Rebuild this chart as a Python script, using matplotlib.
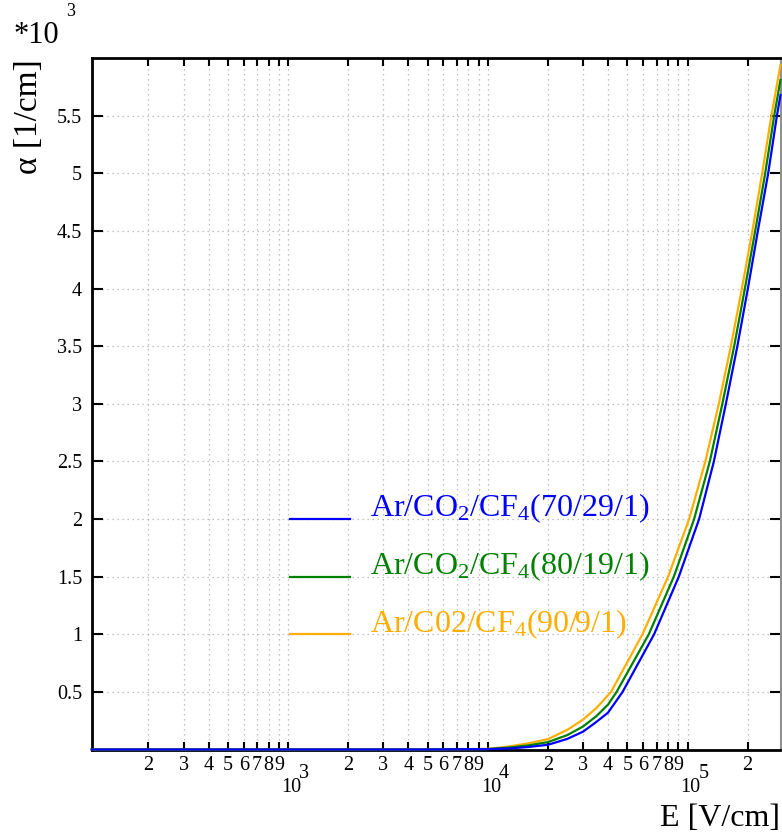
import matplotlib
matplotlib.use("Agg")
import matplotlib.pyplot as plt
import matplotlib.transforms as mtransforms
from matplotlib.ticker import LogLocator, FuncFormatter, FixedLocator, NullLocator, NullFormatter
import numpy as np

plt.rcParams['font.family'] = ['Liberation Serif', 'DejaVu Serif']
plt.rcParams['mathtext.fontset'] = 'custom'
plt.rcParams['mathtext.rm'] = 'Liberation Serif'
plt.rcParams['mathtext.it'] = 'Liberation Serif:italic'

# ---- data (E in V/cm, alpha in 1/cm) ----
E_blue = [104, 1000, 5000, 10000, 13000, 16000, 20000, 25000, 30000, 35000, 40000,
          47300, 68030, 90450, 114300, 135500, 155600, 177600, 200500, 225000, 253400, 280200, 292000]
a_blue = [0, 0, 0, 3, 10, 22, 41, 92, 155, 240, 320,
          500, 1000, 1500, 2000, 2500, 3000, 3500, 4000, 4500, 5000, 5500, 5680]

E_green = [104, 1000, 5000, 10000, 13000, 16000, 20000, 25000, 30000, 35000, 40000,
           44150, 63990, 85400, 107900, 129300, 149400, 171200, 193700, 218200, 244800, 271600, 292000]
a_green = [0, 0, 0, 4, 18, 36, 64, 125, 200, 290, 390,
           500, 1000, 1500, 2000, 2500, 3000, 3500, 4000, 4500, 5000, 5500, 5810]

E_orange = [104, 1000, 5000, 10000, 13000, 16000, 20000, 25000, 30000, 35000,
            41400, 59500, 79950, 101900, 122800, 143500, 164800, 187100, 211200, 236400, 262900, 292000]
a_orange = [0, 0, 0, 5, 28, 54, 90, 170, 260, 360,
            500, 1000, 1500, 2000, 2500, 3000, 3500, 4000, 4500, 5000, 5500, 5940]

labels = [r"Ar/CO$\mathregular{_2}$/CF$\mathregular{_4}$(70/29/1)",
          r"Ar/CO$\mathregular{_2}$/CF$\mathregular{_4}$(80/19/1)",
          r"Ar/C02/CF$\mathregular{_4}$(90/9/1)"]
colors = ['#0000ff', '#008000', '#ffae00']
legend_y = [2000, 1500, 1000]

decades = [1e3, 1e4, 1e5]
decade_exp = ['3', '4', '5']

y_ticks = [500, 1000, 1500, 2000, 2500, 3000, 3500, 4000, 4500, 5000, 5500]
y_ticklabels = ['0.5', '1', '1.5', '2', '2.5', '3', '3.5', '4', '4.5', '5', '5.5']

# ---- figure ----
W, H = 782, 835
fig = plt.figure(figsize=(W / 100, H / 100), dpi=100)
L, R, T, B = 91.7, 780.5, 58.0, 749.5
ax = fig.add_axes([L / W, 1 - B / H, (R - L) / W, (B - T) / H])

ax.set_xscale('log')
ax.set_xlim(104, 2.92e5)
ax.set_ylim(0, 6000)

# curves
ax.plot(E_orange, a_orange, color=colors[2], lw=1.6, zorder=5, clip_on=False)
ax.plot(E_green, a_green, color=colors[1], lw=1.6, zorder=6, clip_on=False)
ax.plot(E_blue, a_blue, color=colors[0], lw=1.6, zorder=7, clip_on=False)

# x ticks
ax.xaxis.set_major_locator(LogLocator(base=10, subs=(1.0,)))
ax.xaxis.set_minor_locator(LogLocator(base=10, subs=np.arange(2, 10)))

def minor_fmt(v, pos):
    e = np.floor(np.log10(v) + 1e-9)
    d = int(round(v / 10 ** e))
    return str(d)

ax.xaxis.set_major_formatter(NullFormatter())
ax.xaxis.set_minor_formatter(FuncFormatter(minor_fmt))

ax.yaxis.set_major_locator(FixedLocator(y_ticks))
ax.set_yticklabels(y_ticklabels)
ax.yaxis.set_minor_locator(NullLocator())

ax.tick_params(axis='x', which='both', direction='in', top=True, bottom=True,
               length=6, width=1.5)
ax.tick_params(axis='x', which='minor', pad=5, labelsize=14.5)
ax.tick_params(axis='y', which='major', direction='in', left=True, right=True,
               length=8, width=1.5, labelsize=14.5, pad=7)

# decade labels, ROOT style (10 with a full-size raised exponent)
xtrans = ax.get_xaxis_transform()
for d, ex in zip(decades, decade_exp):
    t10 = mtransforms.offset_copy(xtrans, fig=fig, x=-7, y=-(792 - B), units='dots')
    tex = mtransforms.offset_copy(xtrans, fig=fig, x=11, y=-(778 - B), units='dots')
    ax.text(d, 0, "10", transform=t10, fontsize=14.5, ha='left', va='baseline')
    ax.text(d, 0, ex, transform=tex, fontsize=14.5, ha='left', va='baseline')

# grid
ax.grid(True, which='both', axis='x', ls=(0, (1, 3)), color='#b0b0b0', lw=0.9)
ax.grid(True, which='major', axis='y', ls=(0, (1, 3)), color='#b0b0b0', lw=0.9)
ax.set_axisbelow(True)

for s in ['left', 'bottom', 'top']:
    ax.spines[s].set_linewidth(2.0)
    ax.spines[s].set_color('black')
ax.spines['right'].set_color('#909090')
ax.spines['right'].set_linewidth(1.5)

# legend (manual, ROOT style)
xl0 = (290 - L) / (R - L)
xl1 = (350 - L) / (R - L)
xt = (370 - L) / (R - L)
trans = ax.get_yaxis_transform()
for lab, c, yv in zip(labels, colors, legend_y):
    ax.plot([xl0, xl1], [yv, yv], color=c, lw=1.6, transform=trans, zorder=8)
    ax.text(xt, yv + 20, lab, color=c, fontsize=23, transform=trans,
            ha='left', va='baseline', zorder=8)

# axis titles
fig.text(R / W, 1 - 826 / H, "E [V/cm]", fontsize=23, ha='right', va='baseline')
fig.text(44 / W, 1 - 59 / H, "α [1/cm]", fontsize=24, rotation=90,
         ha='right', va='top')
fig.text(14 / W, 1 - 43 / H, "*10", fontsize=22, ha='left', va='baseline')
fig.text(66 / W, 1 - 16 / H, "3", fontsize=13, ha='left', va='baseline')

fig.savefig("out.png", dpi=100)
